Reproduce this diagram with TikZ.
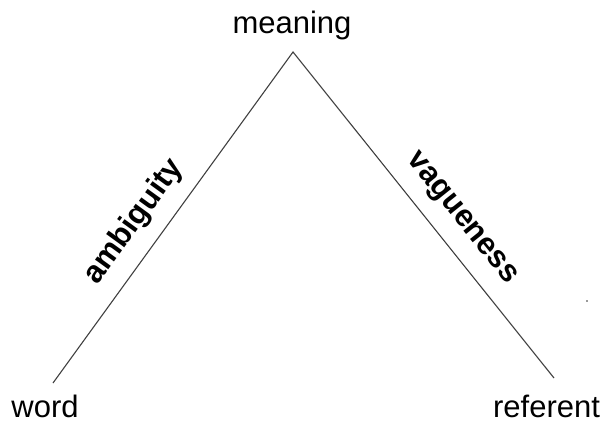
\documentclass[tikz,border=0pt]{standalone}
\usepackage{fontspec}
\setmainfont{Liberation Sans}
\begin{document}
\begin{tikzpicture}[x=1pt,y=-1pt,
  lbl/.style={font=\fontsize{31}{36}\selectfont, inner sep=0pt, anchor=base},
  edgelbl/.style={font=\fontsize{31}{36}\selectfont\bfseries, inner sep=0pt},
  side/.style={draw=black!75, line width=1.1pt}]
\useasboundingbox (0,0) rectangle (605,423);
\coordinate (top) at (293,52);
\coordinate (left) at (53,383);
\coordinate (right) at (554,378);
\node[lbl] (meaning) at (292,33) {meaning};
\node[lbl] (word) at (45,417) {word};
\node[lbl] (referent) at (546.5,417) {referent};
\draw[side] (left) -- (top) -- (right);
\node[edgelbl, rotate=54] (amb) at (134,222) {ambiguity};
\node[edgelbl, rotate=-51.3] (vag) at (461,219) {vagueness};
\fill[black!80] (587,301) circle (0.9pt);
\end{tikzpicture}
\end{document}
